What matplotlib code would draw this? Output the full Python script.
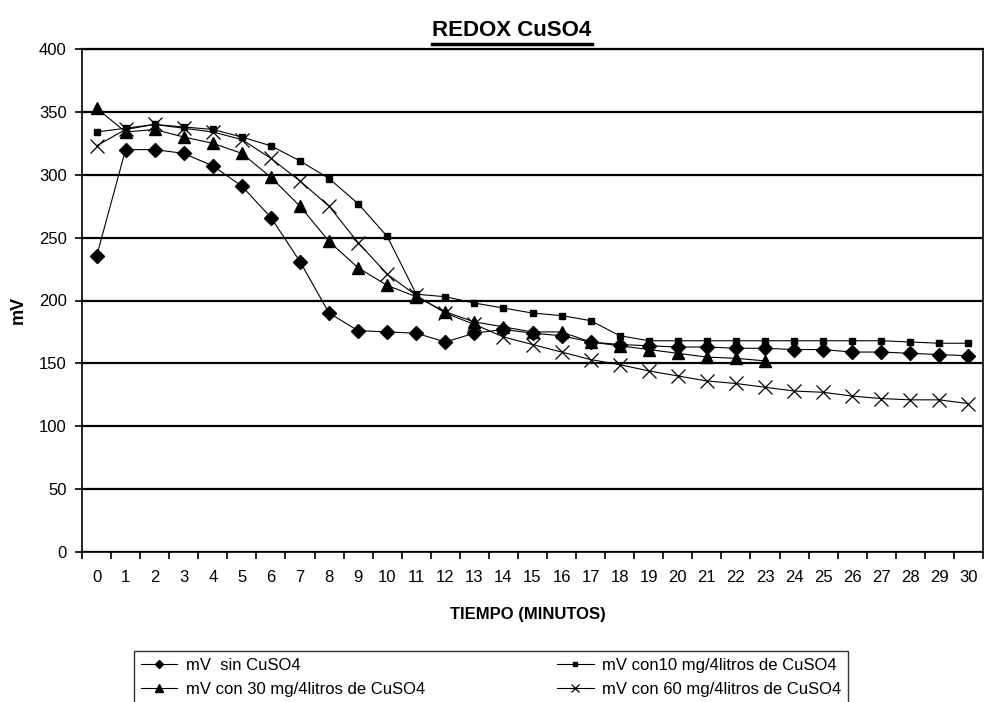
import numpy as np
import matplotlib
matplotlib.use('Agg')
import matplotlib.pyplot as plt
from matplotlib.lines import Line2D

plt.rcParams['font.family'] = ['Liberation Sans Narrow', 'Liberation Sans', 'DejaVu Sans']

minutos = list(range(31))

sin_cuso4 = [235, 320, 320, 317, 307, 291, 266, 231, 190, 176, 175, 174, 167, 174, 177,
             174, 172, 167, 165, 164, 163, 163, 162, 162, 161, 161, 159, 159, 158, 157, 156]
con10 = [334, 337, 340, 338, 336, 330, 323, 311, 297, 277, 251, 205, 203, 198, 194,
         190, 188, 184, 172, 168, 168, 168, 168, 168, 168, 168, 168, 168, 167, 166, 166]
con30 = [353, 334, 336, 330, 325, 317, 298, 275, 247, 226, 212, 203, 191, 183, 179,
         175, 175, 167, 164, 161, 158, 155, 154, 152]
con60 = [323, 336, 340, 337, 334, 328, 313, 295, 275, 246, 221, 204, 190, 181, 171,
         165, 159, 153, 149, 144, 140, 136, 134, 131, 128, 127, 124, 122, 121, 121, 118]

etiquetas = ['mV  sin CuSO4', 'mV con10 mg/4litros de CuSO4',
             'mV con 30 mg/4litros de CuSO4', 'mV con 60 mg/4litros de CuSO4']

fig = plt.figure(figsize=(9.84, 7.02), dpi=100)
ax = fig.add_axes([82/984, 1 - 552/702, 901/984, 503/702])

l1, = ax.plot(minutos, sin_cuso4, '-', color='black', lw=0.8, marker='D', ms=7.4)
l2, = ax.plot(minutos, con10, '-', color='black', lw=0.8, marker='s', ms=5)
l3, = ax.plot(minutos[:len(con30)], con30, '-', color='black', lw=0.8, marker='^', ms=8.5)
l4, = ax.plot(minutos, con60, '-', color='black', lw=0.8, marker='x', ms=10.5, mew=0.9)

ax.set_xlim(-0.5, 30.5)
ax.set_ylim(0, 400)
ax.set_yticks(np.arange(0, 401, 50))
ax.set_xticks(minutos)
ax.set_xticks(np.arange(-0.5, 31, 1), minor=True)
ax.tick_params(axis='x', which='major', length=0, pad=13, labelsize=12)
ax.tick_params(axis='x', which='minor', length=5, width=1.2, direction='out')
ax.tick_params(axis='y', length=5, width=1.2, direction='out', labelsize=12, pad=6)
ax.yaxis.grid(True, color='black', lw=1.6)
ax.set_axisbelow(True)
for s in ax.spines.values():
    s.set_color('black')
    s.set_linewidth(1.2)
ax.spines['top'].set_linewidth(1.6)

fig.text(18/984, 1 - 310/702, 'mV', rotation=90, ha='center', va='center',
         fontsize=13, fontweight='bold')
fig.text(528/984, 1 - 615/702, 'TIEMPO (MINUTOS)', ha='center', va='center',
         fontsize=12, fontweight='bold')
titulo = fig.text(512/984, 1 - 31/702, 'REDOX CuSO4', ha='center', va='center',
                  fontsize=16, fontweight='bold')

leg = fig.legend([l1, l3, l2, l4], [etiquetas[0], etiquetas[2], etiquetas[1], etiquetas[3]],
                 ncol=2, loc='upper left',
                 bbox_to_anchor=(134/984, -0.05, 714/984, 0.05 + 1 - 651/702),
                 mode='expand', borderaxespad=0, fontsize=12, markerscale=0.6,
                 handlelength=2.2, frameon=True, fancybox=False, edgecolor='black',
                 borderpad=0.4, labelspacing=0.55, handletextpad=0.5)
leg.get_frame().set_linewidth(1.0)

# subrayado del titulo
fig.canvas.draw()
bb = titulo.get_window_extent().transformed(fig.transFigure.inverted())
fig.add_artist(Line2D([bb.x0, bb.x1], [bb.y0 - 0.004, bb.y0 - 0.004],
                      transform=fig.transFigure, color='black', lw=2.5))

fig.savefig('out.png', dpi=100)
